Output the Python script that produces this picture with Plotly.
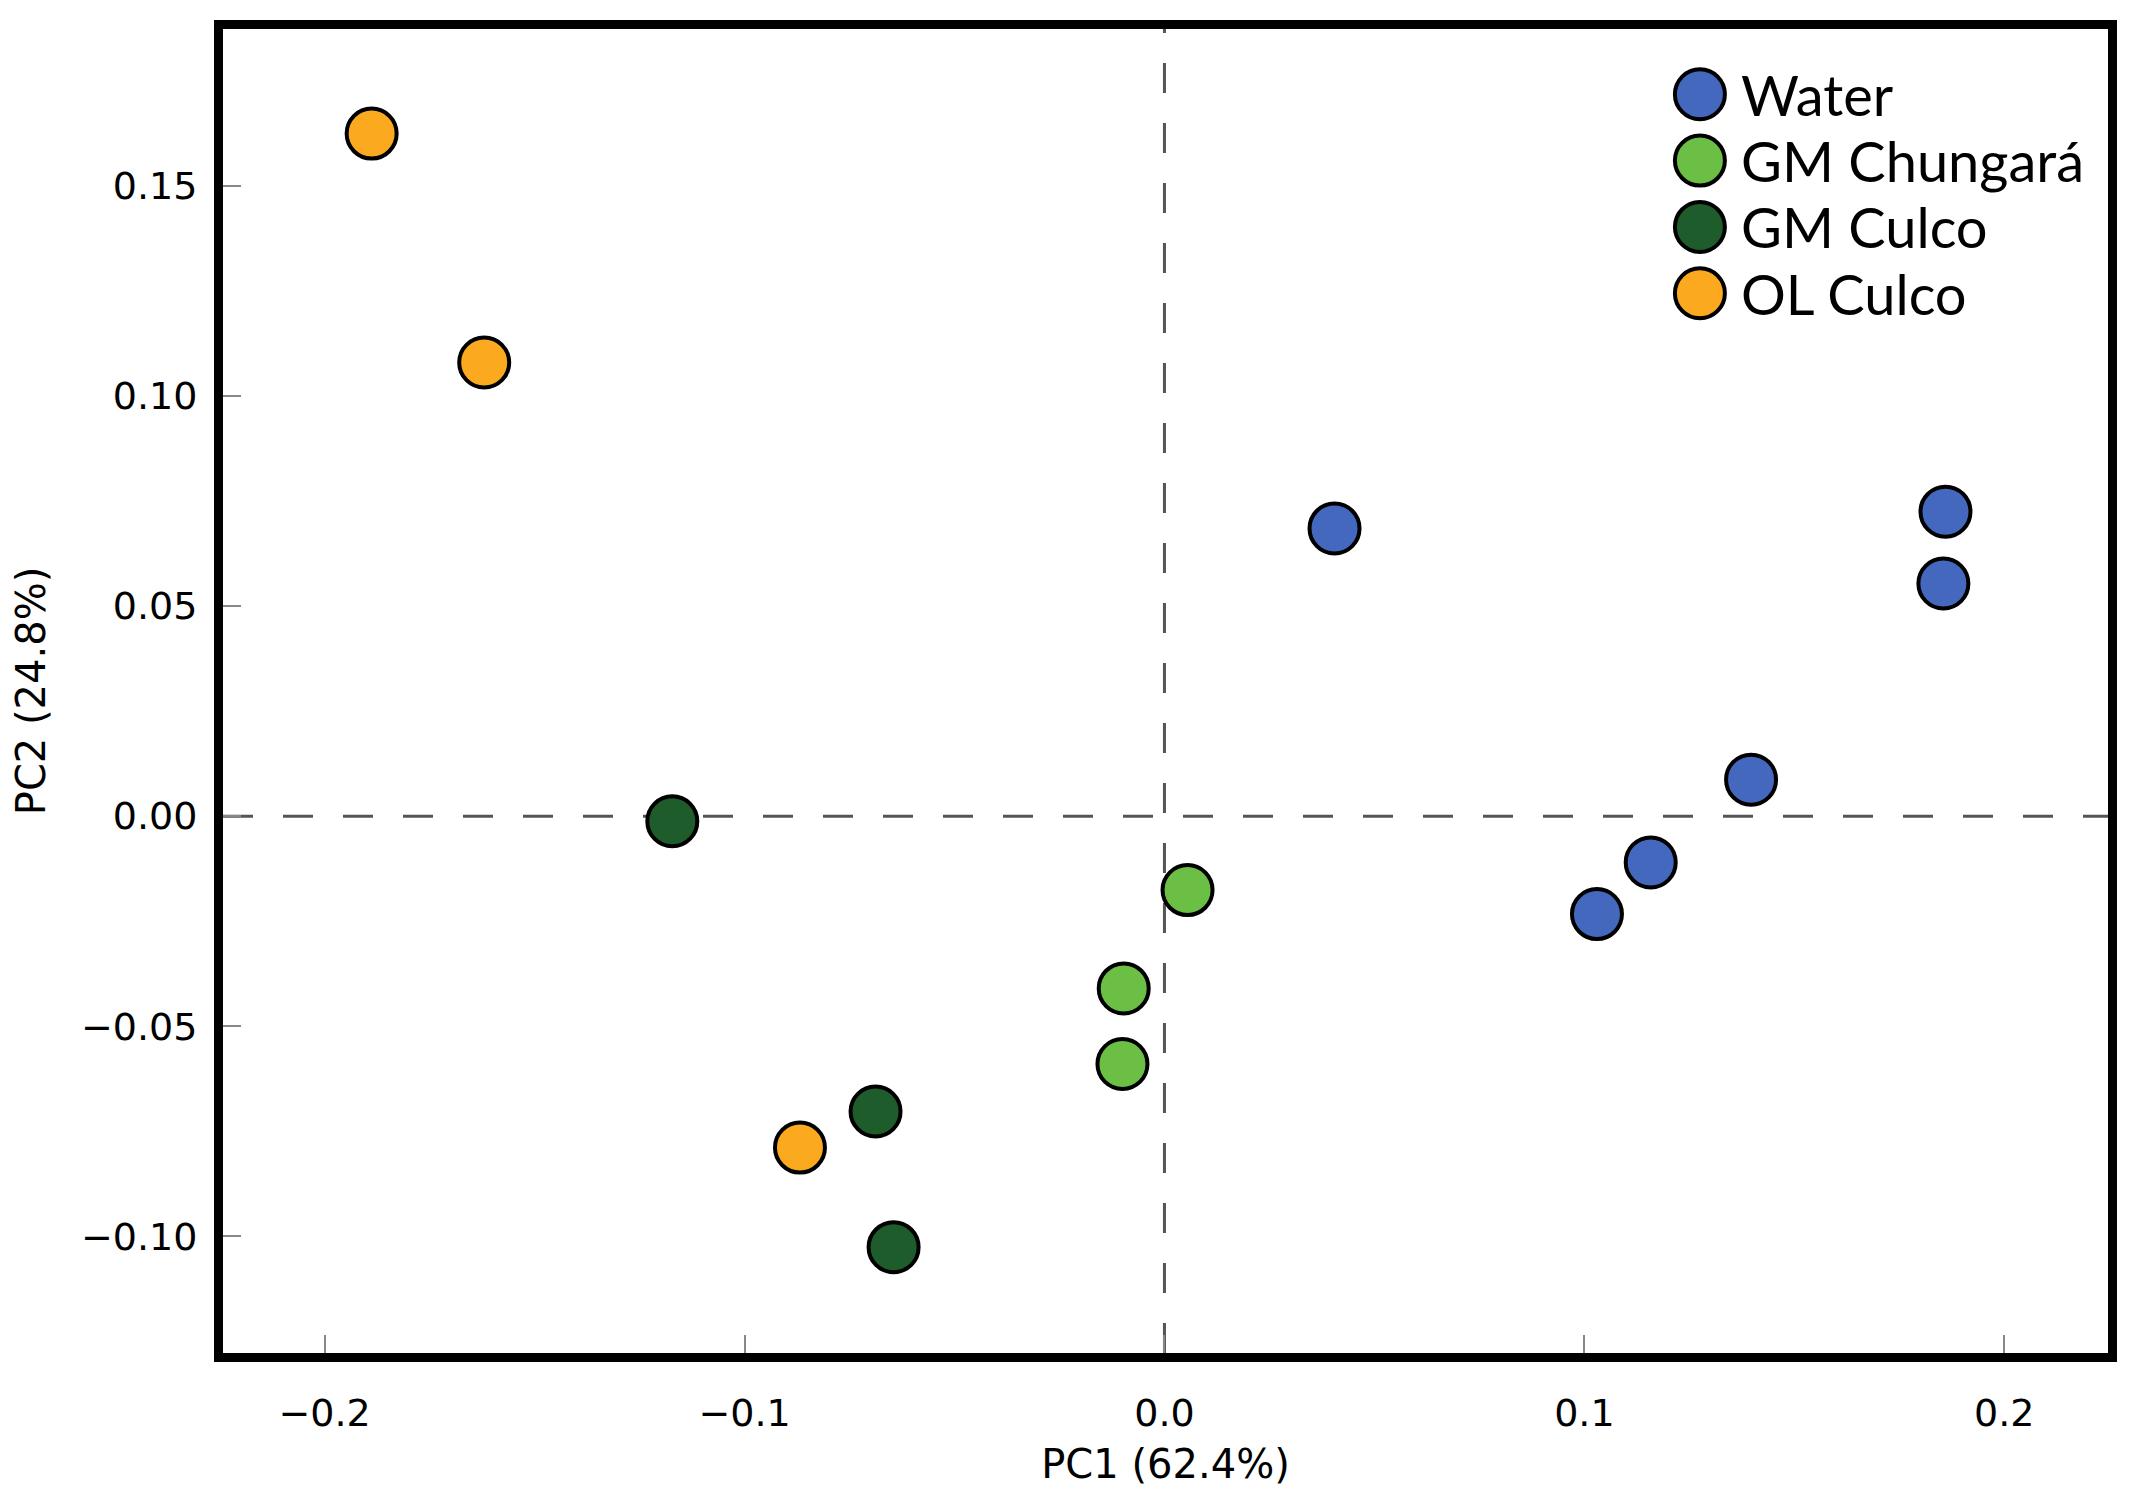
import plotly.graph_objects as go

# --- PCA scores -----------------------------------------------------------
groups = ["Water", "GM Chungará", "GM Culco", "OL Culco"]
colors = ["#4468BE", "#6CBF45", "#1F5C2C", "#FBAA1F"]

water_x = [0.0405, 0.1860, 0.1855, 0.1397, 0.1158, 0.1030]
water_y = [0.0685, 0.0725, 0.0554, 0.0087, -0.0110, -0.0233]

chungara_x = [0.0055, -0.0097, -0.0100]
chungara_y = [-0.0176, -0.0410, -0.0590]

gm_culco_x = [-0.1172, -0.0688, -0.0645]
gm_culco_y = [-0.0012, -0.0703, -0.1026]

ol_culco_x = [-0.1888, -0.1620, -0.0868]
ol_culco_y = [0.1625, 0.1080, -0.0789]

x_label = "PC1 (62.4%)"
y_label = "PC2 (24.8%)"

series = [
    (water_x, water_y),
    (chungara_x, chungara_y),
    (gm_culco_x, gm_culco_y),
    (ol_culco_x, ol_culco_y),
]

TICK_FONT = dict(family="DejaVu Sans", size=38, color="black")
TITLE_FONT = dict(family="DejaVu Sans", size=40, color="black")

fig = go.Figure()

# --- dashed zero lines (behind the points) --------------------------------
zero_line = dict(color="#555555", width=3, dash="30px,30px")
fig.add_hline(y=0, line=zero_line, layer="below")
fig.add_vline(x=0, line=zero_line, layer="below")

for name, color, (xs, ys) in zip(groups, colors, series):
    fig.add_trace(
        go.Scatter(
            x=xs, y=ys,
            mode="markers",
            name=name,
            marker=dict(size=50, color=color,
                        line=dict(width=4, color="black")),
            showlegend=False,
        )
    )

# --- hand-made legend: plotly caps legend marker size, so draw it ---------
leg_x = 0.7835      # marker centre, paper units
leg_y0 = 0.9507     # first row
leg_dy = 0.0501     # row step
for i, (name, color) in enumerate(zip(groups, colors)):
    yy = leg_y0 - i * leg_dy
    fig.add_shape(
        type="circle", xref="paper", yref="paper",
        xsizemode="pixel", ysizemode="pixel",
        xanchor=leg_x, yanchor=yy,
        x0=-25, x1=25, y0=-25, y1=25,
        fillcolor=color, line=dict(color="black", width=4),
    )
    fig.add_annotation(
        x=leg_x + 0.021, y=yy, xref="paper", yref="paper",
        xanchor="left", yanchor="middle", showarrow=False,
        text=name,
        font=dict(family="Lato", size=56, color="black"),
    )

axis_common = dict(
    showgrid=False, zeroline=False,
    showline=True, linecolor="black", linewidth=9, mirror=True,
    ticks="inside", ticklen=18, tickwidth=2, tickcolor="#888888",
    tickfont=TICK_FONT,
)

fig.update_xaxes(
    range=[-0.2242, 0.2247],
    tick0=0, dtick=0.1, tickformat=".1f",
    ticklabelstandoff=18,
    title=dict(text=x_label, font=TITLE_FONT, standoff=20),
    **axis_common,
)
fig.update_yaxes(
    range=[-0.1278, 0.1874],
    tick0=0, dtick=0.05, tickformat=".2f",
    ticklabelstandoff=9,
    title=dict(text=y_label, font=TITLE_FONT, standoff=33),
    **axis_common,
)

fig.update_layout(
    width=2133, height=1497,
    margin=dict(l=202, r=33, t=16, b=152),
    plot_bgcolor="white", paper_bgcolor="white",
)

fig.write_html("out.html")
